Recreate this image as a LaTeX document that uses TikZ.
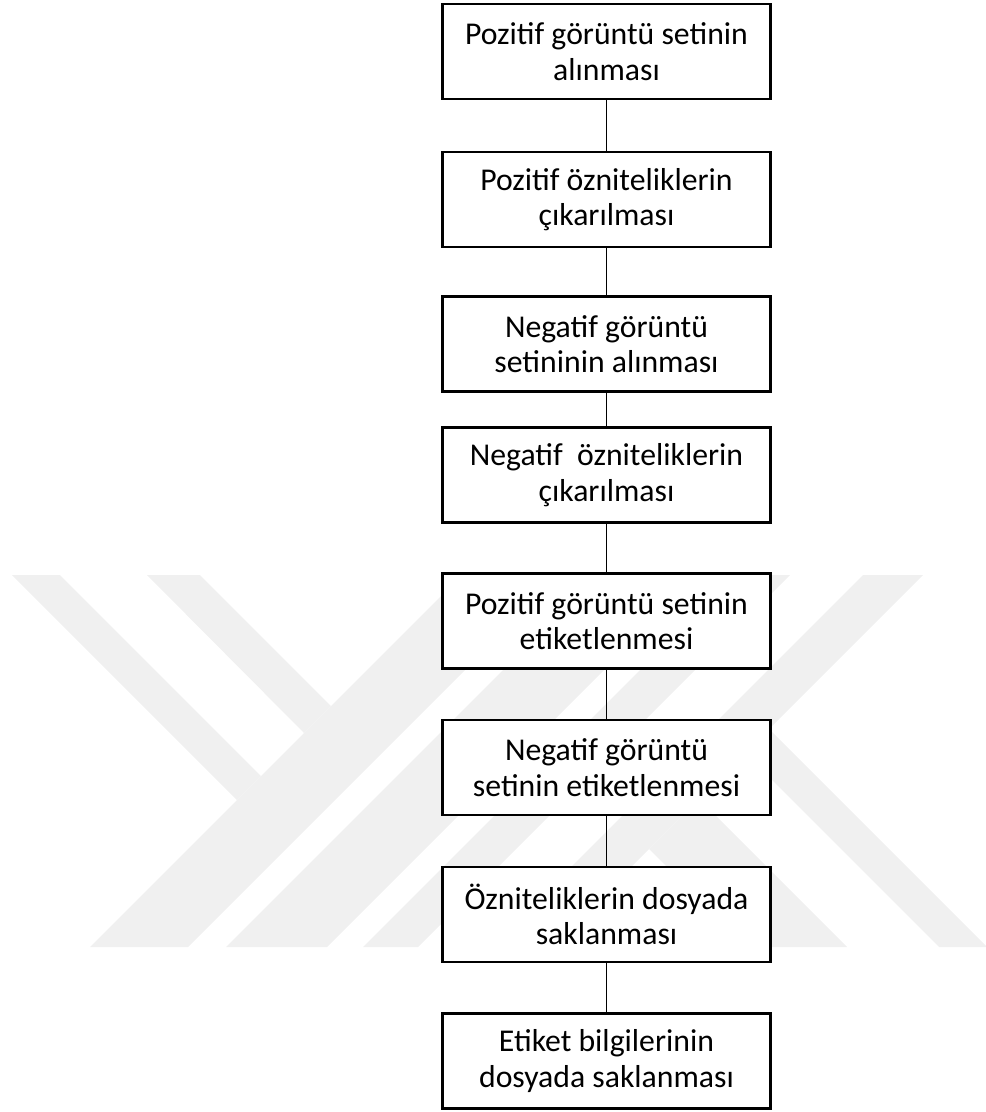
\documentclass[tikz,border=0pt]{standalone}
\usepackage{fontspec}
\setmainfont{Carlito}
\definecolor{wmgray}{HTML}{F0F0F0}

\begin{document}
\begin{tikzpicture}[x=0.75pt,y=-0.75pt,
  box/.style={rectangle,draw=black,fill=white,line width=1.9pt,minimum width=246pt,minimum height=71pt,inner sep=2pt,align=center,font=\fontsize{23.8}{26.5}\selectfont},
  link/.style={draw=black,line width=1pt},
  wm/.style={fill=wmgray}]
\useasboundingbox (0,0) rectangle (985,1112);
% faint watermark in the background
\fill[wm] (12,575) -- (60,575) -- (261,776) -- (237,800) -- cycle;
\fill[wm] (147,575) -- (200,575) -- (331,706) -- (304,733) -- cycle;
\fill[wm] (462,575) -- (560,575) -- (188,947) -- (90,947) -- cycle;
\fill[wm] (598,575) -- (699,575) -- (327,947) -- (226,947) -- cycle;
\fill[wm] (735,575) -- (790,575) -- (418,947) -- (363,947) -- cycle;
\fill[wm] (863,575) -- (923,575) -- (551,947) -- (491,947) -- cycle;
\fill[wm] (745,753) -- (769,729) -- (987,947) -- (939,947) -- cycle;
\fill[wm] (649,849) -- (699,799) -- (847,947) -- (747,947) -- cycle;
% steps
\node[box] (posset) at (606.5,51.5) {Pozitif görüntü setinin\\alınması};
\node[box] (posfeat) at (606.5,199.5) {Pozitif özniteliklerin\\çıkarılması};
\node[box] (negset) at (606.5,344) {Negatif görüntü\\setininin alınması};
\node[box] (negfeat) at (606.5,475) {Negatif\ \ özniteliklerin\\çıkarılması};
\node[box] (poslabel) at (606.5,621) {Pozitif görüntü setinin\\etiketlenmesi};
\node[box] (neglabel) at (606.5,767.5) {Negatif görüntü\\setinin etiketlenmesi};
\node[box] (featsave) at (606.5,914.5) {Özniteliklerin dosyada\\saklanması};
\node[box] (labelsave) at (606.5,1061) {Etiket bilgilerinin\\dosyada saklanması};
\draw[link] (posset) -- (posfeat);
\draw[link] (posfeat) -- (negset);
\draw[link] (negset) -- (negfeat);
\draw[link] (negfeat) -- (poslabel);
\draw[link] (poslabel) -- (neglabel);
\draw[link] (neglabel) -- (featsave);
\draw[link] (featsave) -- (labelsave);
\end{tikzpicture}
\end{document}
